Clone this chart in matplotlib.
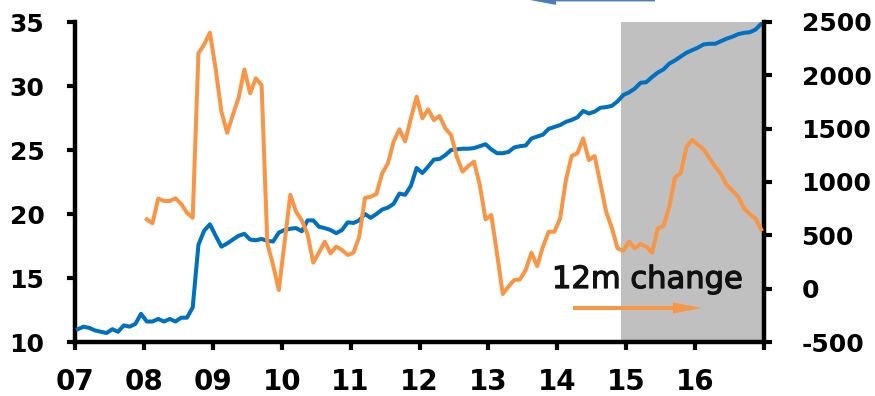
import numpy as np
import matplotlib
matplotlib.use("Agg")
import matplotlib.pyplot as plt
import matplotlib.patheffects as pe
from matplotlib.patches import FancyArrow

# Niveau mensuel (axe gauche), janv. 2007 -> déc. 2016
level = [
    11.0, 11.2, 11.1, 10.9, 10.8, 10.7, 11.0, 10.8, 11.3, 11.2, 11.4, 12.2,
    11.6, 11.6, 11.8, 11.6, 11.8, 11.6, 11.9, 11.9, 12.7, 17.6, 18.7, 19.2,
    18.3, 17.45, 17.7, 18.0, 18.3, 18.45, 18.0, 17.95, 18.05, 17.9, 17.85, 18.55,
    18.75, 18.85, 18.9, 18.65, 19.5, 19.5, 19.0, 18.9, 18.75, 18.5, 18.75, 19.35,
    19.3, 19.5, 20.0, 19.7, 20.0, 20.35, 20.5, 20.8, 21.6, 21.5, 22.2, 23.6,
    23.2, 23.7, 24.25, 24.3, 24.6, 25.0, 25.05, 25.1, 25.1, 25.15, 25.3, 25.45,
    25.05, 24.75, 24.75, 24.85, 25.2, 25.3, 25.35, 25.9, 26.05, 26.2, 26.65, 26.8,
    26.95, 27.2, 27.35, 27.55, 28.05, 27.85, 28.0, 28.3, 28.35, 28.45, 28.8, 29.3,
    29.5, 29.8, 30.25, 30.3, 30.7, 31.05, 31.3, 31.75, 32.0, 32.3, 32.6, 32.8,
    33.0, 33.25, 33.3, 33.3, 33.5, 33.7, 33.85, 34.05, 34.15, 34.2, 34.4, 34.85,
]

# Variation sur 12 mois (axe droit), à partir de janv. 2008
change_12m = [np.nan] * 12 + [
    650, 613, 845, 822, 822, 847, 794, 712, 665, 2207, 2290, 2400,
    2060, 1659, 1462, 1630, 1790, 2055, 1831, 1972, 1909, 425, 222, -13,
    433, 880, 722, 640, 510, 244, 340, 441, 331, 394, 363, 316,
    337, 487, 850, 862, 887, 1081, 1175, 1378, 1494, 1380, 1597, 1800,
    1597, 1681, 1581, 1619, 1503, 1441, 1237, 1097, 1150, 1191, 972, 650,
    691, 331, -50, 19, 81, 87, 175, 337, 212, 394, 534, 534,
    660, 1019, 1244, 1269, 1409, 1206, 1244, 987, 722, 570, 378, 356,
    441, 378, 419, 394, 337, 566, 587, 769, 1044, 1081, 1331, 1394,
    1347, 1306, 1222, 1144, 1075, 972, 919, 862, 753, 700, 660, 556,
]

years = list(range(2007, 2018))
year_labels = ["07", "08", "09", "10", "11", "12", "13", "14", "15", "16", ""]
forecast_start = 2014.92

months = 2007 + (np.arange(len(level)) + 0.5) / 12

BLUE = "#0070c0"
ORANGE = "#f79646"
ARROW_BLUE = "#4a7dba"

plt.rcParams["font.family"] = "DejaVu Sans"
plt.rcParams["axes.unicode_minus"] = False

fig = plt.figure(figsize=(8.75, 3.96), dpi=100)
ax = fig.add_axes([75 / 875, 1 - 342 / 396, (764 - 75) / 875, (342 - 22) / 396])
ax2 = ax.twinx()

# zone grisée (prévisions)
ax.axvspan(forecast_start, 2017, color="#c0c0c0", lw=0, zorder=0)

ax.plot(months, level, color=BLUE, lw=2.9, solid_joinstyle="round", zorder=3)
ax2.plot(months, change_12m, color=ORANGE, lw=2.9, solid_joinstyle="round", zorder=3)

ax.set_xlim(2007, 2017)
ax.set_ylim(10, 35)
ax2.set_ylim(-500, 2500)
ax.set_xticks(years)
ax.set_xticklabels(year_labels)
ax.set_yticks([10, 15, 20, 25, 30, 35])
ax2.set_yticks([-500, 0, 500, 1000, 1500, 2000, 2500])
ax2.set_yticklabels(["-500", "0", "500", "1000", "1500", "2000", "2500"])

for a in (ax, ax2):
    a.spines["top"].set_visible(False)
    for s in ("left", "right", "bottom"):
        a.spines[s].set_linewidth(3.2)
    a.tick_params(width=3, length=6)

ax.spines["right"].set_visible(False)
ax2.spines["left"].set_visible(False)
ax2.spines["bottom"].set_visible(False)
ax.tick_params(axis="y", pad=16, labelsize=18)
ax.tick_params(axis="x", pad=13, labelsize=20)
ax2.tick_params(axis="y", pad=21, labelsize=18)
for lab in ax.get_xticklabels() + ax.get_yticklabels() + ax2.get_yticklabels():
    lab.set_fontweight("bold")

# légende manuelle
fig.text(552 / 875, 1 - 288 / 396, "12m change", fontsize=22, va="baseline",
         ha="left", color="#111111",
         path_effects=[pe.withStroke(linewidth=0.9, foreground="#111111")])
fig.add_artist(FancyArrow(5.73, (396 - 308) / 100, 1.29, 0, width=0.04,
                          head_width=0.11, head_length=0.29,
                          length_includes_head=True, color=ORANGE, lw=0,
                          transform=fig.dpi_scale_trans))
fig.add_artist(FancyArrow(6.55, (396 + 0.6) / 100, -1.28, 0, width=0.04,
                          head_width=0.11, head_length=0.29,
                          length_includes_head=True, color=ARROW_BLUE, lw=0,
                          transform=fig.dpi_scale_trans))

fig.savefig("out.png", dpi=100)
